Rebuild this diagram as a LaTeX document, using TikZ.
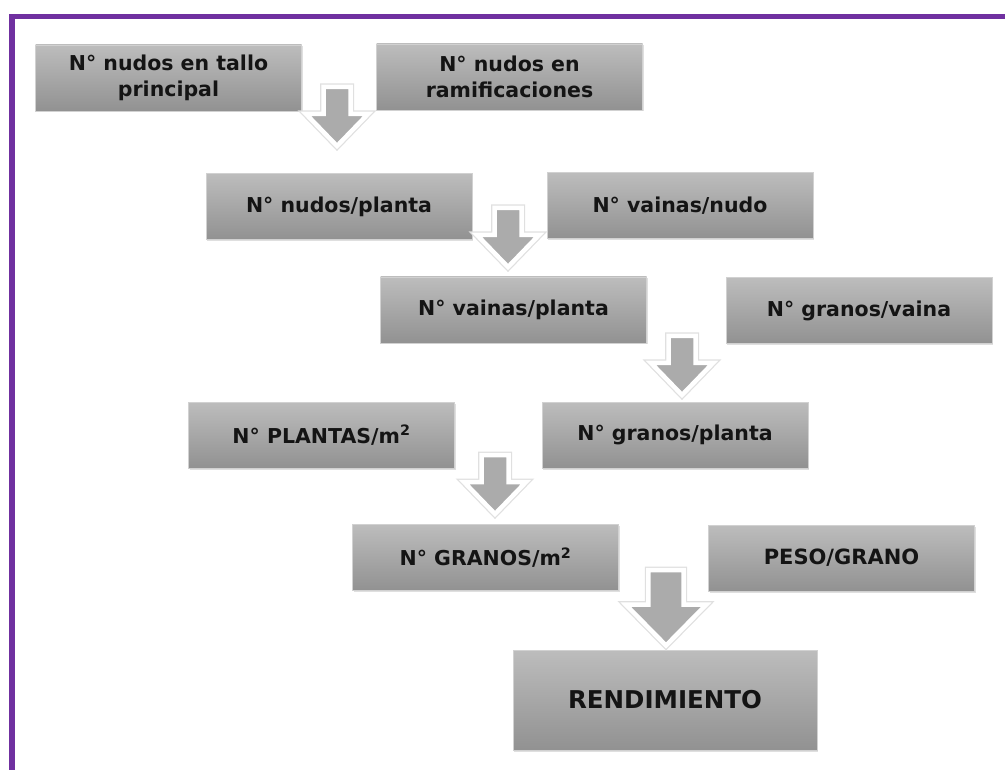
\documentclass[tikz,border=0pt]{standalone}
\usepackage{fontspec}
\setmainfont{DejaVu Sans}
\usetikzlibrary{shadows}

\begin{document}
\begin{tikzpicture}[x=1pt, y=-1pt, font=\bfseries,
  blk/.style={minimum width=266pt, minimum height=66pt, inner sep=2pt, align=center,
    top color=black!26, bottom color=black!43, draw=black!18, line width=0.6pt,
    text=black!92, font=\fontsize{20.5}{25.5}\selectfont\bfseries,
    drop shadow={shadow xshift=1.2pt, shadow yshift=-1.5pt, opacity=0.25}},
  downarr/.pic={
    \path[draw=black!12, line width=7pt, line join=miter]
      (-13.5,0) -- (13.5,0) -- (13.5,27) -- (31,27) -- (0,59) -- (-31,27) -- (-13.5,27) -- cycle;
    \path[fill=black!33, draw=white, line width=4.5pt, line join=miter]
      (-13.5,0) -- (13.5,0) -- (13.5,27) -- (31,27) -- (0,59) -- (-31,27) -- (-13.5,27) -- cycle;
  },
]
\definecolor{frame}{HTML}{7030A0}
\useasboundingbox (0,0) rectangle (1005,770);
% frame
\draw[frame, line width=5.5pt] (12,770) -- (12,16.5) -- (1005,16.5);
% ---- boxes ----
\node[blk] (tallo) at (168.5,78) {N° nudos en tallo\\principal};
\node[blk] (ramif) at (509.5,77) {N° nudos en\\ramificaciones};
\node[blk] (nudpl) at (339,206.5) {N° nudos/planta};
\node[blk] (vainud) at (680,205.5) {N° vainas/nudo};
\node[blk] (vaipl) at (513.5,310) {N° vainas/planta};
\node[blk] (grvai) at (859,310.5) {N° granos/vaina};
\node[blk] (plantas) at (321.5,435) {N° PLANTAS/m\textsuperscript{2}};
\node[blk] (grpl) at (675,435) {N° granos/planta};
\node[blk] (granos) at (485.5,557.5) {N° GRANOS/m\textsuperscript{2}};
\node[blk, font=\fontsize{21}{25}\selectfont\bfseries] (peso) at (841.5,558) {PESO/GRANO};
\node[blk, minimum width=304pt, minimum height=100pt,
  font=\fontsize{24.5}{28}\selectfont\bfseries] (rend) at (665,700) {RENDIMIENTO};
% ---- arrows ----
\coordinate (a1) at (337,87);
\coordinate (a2) at (508,208);
\coordinate (a3) at (682,336);
\coordinate (a4) at (495,455);
\coordinate (a5) at (666,570);
\pic at (a1) {downarr};
\pic at (a2) {downarr};
\pic at (a3) {downarr};
\pic at (a4) {downarr};
\pic[xscale=1.3, yscale=1.28] at (a5) {downarr};
\end{tikzpicture}
\end{document}
